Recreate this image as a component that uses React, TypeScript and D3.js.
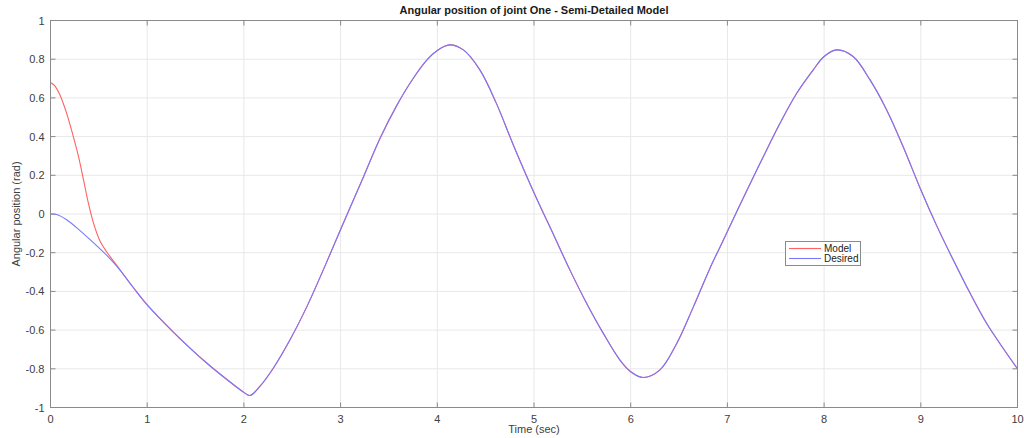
import React from "react";
import * as d3 from "d3";

const title = "Angular position of joint One - Semi-Detailed Model";
const xLabel = "Time (sec)";
const yLabel = "Angular position (rad)";
const xTicks = [0, 1, 2, 3, 4, 5, 6, 7, 8, 9, 10];
const yTicks = [-1, -0.8, -0.6, -0.4, -0.2, 0, 0.2, 0.4, 0.6, 0.8, 1];
const seriesNames = ["Model", "Desired"];

const desiredT = [0, 0.064, 0.167, 0.305, 0.443, 0.58, 0.719, 0.856, 1.0, 1.27, 1.615, 1.9, 2.0, 2.063, 2.167, 2.3, 2.477, 2.65, 2.82, 3.0, 3.235, 3.407, 3.58, 3.75, 3.9, 4.0, 4.125, 4.27, 4.44, 4.61, 4.786, 5.0, 5.2, 5.372, 5.545, 5.717, 5.889, 6.0, 6.13, 6.3, 6.476, 6.648, 6.82, 6.923, 7.0, 7.2, 7.37, 7.544, 7.717, 7.888, 8.0, 8.13, 8.3, 8.475, 8.647, 8.82, 9.0, 9.164, 9.336, 9.51, 9.68, 9.853, 10];
const desiredV = [0, -0.003, -0.03, -0.086, -0.148, -0.213, -0.29, -0.38, -0.47, -0.61, -0.77, -0.885, -0.922, -0.938, -0.89, -0.8, -0.65, -0.48, -0.29, -0.08, 0.19, 0.39, 0.56, 0.7, 0.8, 0.845, 0.874, 0.848, 0.745, 0.573, 0.357, 0.11, -0.105, -0.29, -0.462, -0.617, -0.755, -0.815, -0.845, -0.807, -0.669, -0.48, -0.28, -0.172, -0.09, 0.12, 0.295, 0.469, 0.624, 0.745, 0.814, 0.848, 0.814, 0.693, 0.538, 0.345, 0.125, -0.06, -0.238, -0.41, -0.565, -0.695, -0.8];

const modelT = [0, 0.04, 0.098, 0.167, 0.236, 0.288, 0.34, 0.39, 0.443, 0.512, 0.58, 0.685, 0.75, 0.856, 1.0, 1.27, 1.615, 1.9, 2.0, 2.063, 2.167, 2.3, 2.477, 2.65, 2.82, 3.0, 3.235, 3.407, 3.58, 3.75, 3.9, 4.0, 4.125, 4.27, 4.44, 4.61, 4.786, 5.0, 5.2, 5.372, 5.545, 5.717, 5.889, 6.0, 6.13, 6.3, 6.476, 6.648, 6.82, 6.923, 7.0, 7.2, 7.37, 7.544, 7.717, 7.888, 8.0, 8.13, 8.3, 8.475, 8.647, 8.82, 9.0, 9.164, 9.336, 9.51, 9.68, 9.853, 10];
const modelV = [0.68, 0.665, 0.615, 0.52, 0.4, 0.3, 0.18, 0.06, -0.045, -0.14, -0.195, -0.265, -0.31, -0.38, -0.47, -0.61, -0.77, -0.885, -0.922, -0.938, -0.89, -0.8, -0.65, -0.48, -0.29, -0.08, 0.19, 0.39, 0.56, 0.7, 0.8, 0.845, 0.874, 0.848, 0.745, 0.573, 0.357, 0.11, -0.105, -0.29, -0.462, -0.617, -0.755, -0.815, -0.845, -0.807, -0.669, -0.48, -0.28, -0.172, -0.09, 0.12, 0.295, 0.469, 0.624, 0.745, 0.814, 0.848, 0.814, 0.693, 0.538, 0.345, 0.125, -0.06, -0.238, -0.41, -0.565, -0.695, -0.8];

const W = 1024;
const H = 438;
const left = 50.5;
const right = 1017.5;
const top = 20.5;
const bottom = 407.5;

export default function App() {
  const x = d3.scaleLinear().domain([0, 10]).range([left, right]);
  const y = d3.scaleLinear().domain([-1, 1]).range([bottom, top]);
  const line = d3
    .line<[number, number]>()
    .x((d) => x(d[0]))
    .y((d) => y(d[1]))
    .curve(d3.curveCatmullRom.alpha(0.5));
  const modelPts: [number, number][] = modelT.map((t, i) => [t, modelV[i]]);
  const desiredPts: [number, number][] = desiredT.map((t, i) => [t, desiredV[i]]);
  const axisColor = "#8a8a8a";
  const textColor = "#404040";
  const font = "'Liberation Sans', Arial, sans-serif";
  const tickLen = 5;
  const red = "#ff6262";
  const blue = "#7878ff";

  return (
    <svg
      width={W}
      height={H}
      style={{ position: "absolute", left: 0, top: 0, background: "#fff" }}
      fontFamily={font}
    >
      <rect x={0} y={0} width={W} height={H} fill="#fff" />
      {xTicks.map((t) => (
        <line key={"gx" + t} x1={x(t)} x2={x(t)} y1={top} y2={bottom} stroke="#e8e8e8" strokeWidth={1} />
      ))}
      {yTicks.map((t) => (
        <line key={"gy" + t} x1={left} x2={right} y1={y(t)} y2={y(t)} stroke="#e8e8e8" strokeWidth={1} />
      ))}
      <path d={line(modelPts) || ""} fill="none" stroke={red} strokeWidth={1.1} />
      <path d={line(desiredPts) || ""} fill="none" stroke={blue} strokeWidth={1.1} />
      <rect x={left} y={top} width={right - left} height={bottom - top} fill="none" stroke={axisColor} strokeWidth={1} />
      {xTicks.map((t) => (
        <g key={"tx" + t}>
          <line x1={x(t)} x2={x(t)} y1={bottom} y2={bottom - tickLen} stroke={axisColor} />
          <line x1={x(t)} x2={x(t)} y1={top} y2={top + tickLen} stroke={axisColor} />
          <text x={x(t)} y={bottom + 15} textAnchor="middle" fontSize={11} fill={textColor}>
            {d3.format("d")(t)}
          </text>
        </g>
      ))}
      {yTicks.map((t) => (
        <g key={"ty" + t}>
          <line x1={left} x2={left + tickLen} y1={y(t)} y2={y(t)} stroke={axisColor} />
          <line x1={right} x2={right - tickLen} y1={y(t)} y2={y(t)} stroke={axisColor} />
          <text x={left - 6} y={y(t) + 4} textAnchor="end" fontSize={11} fill={textColor}>
            {t === 0 ? "0" : String(+t.toFixed(1))}
          </text>
        </g>
      ))}
      <text x={(left + right) / 2} y={14} textAnchor="middle" fontSize={11} fontWeight="bold" fill="#1a1a1a">
        {title}
      </text>
      <text x={(left + right) / 2} y={433} textAnchor="middle" fontSize={11} fill={textColor}>
        {xLabel}
      </text>
      <text
        transform={`translate(20, ${(top + bottom) / 2}) rotate(-90)`}
        textAnchor="middle"
        fontSize={11}
        fill={textColor}
      >
        {yLabel}
      </text>
      <g>
        <rect x={785.5} y={241.5} width={75} height={24} fill="#fff" stroke="#8a8a8a" />
        {seriesNames.map((name, i) => (
          <g key={name}>
            <line x1={789} x2={821} y1={248.5 + i * 10} y2={248.5 + i * 10} stroke={i === 0 ? red : blue} strokeWidth={1.1} />
            <text x={824} y={252 + i * 10} fontSize={10} fill="#222">
              {name}
            </text>
          </g>
        ))}
      </g>
    </svg>
  );
}
